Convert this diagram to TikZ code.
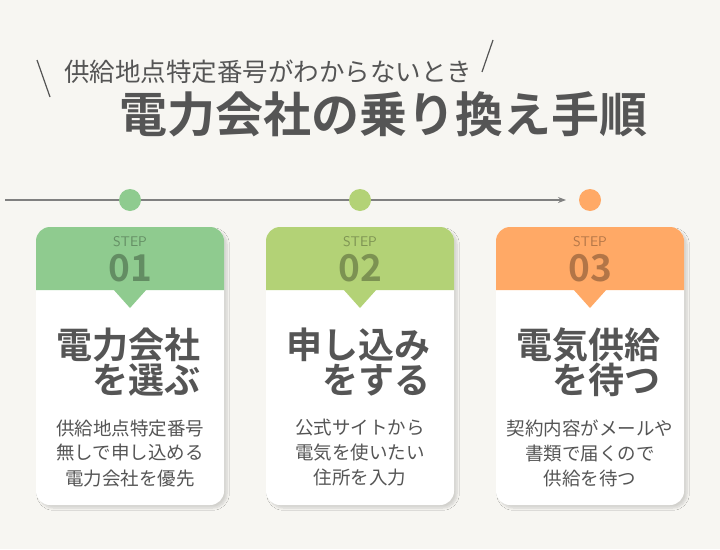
\documentclass[tikz,border=0pt]{standalone}
\usepackage{fontspec}
\setmainfont{Noto Sans CJK JP}[BoldFont={Noto Sans CJK JP Bold}]
\usetikzlibrary{arrows.meta,shadows.blur}
\definecolor{bg}{HTML}{F7F6F2}
\definecolor{txt}{HTML}{555555}
\definecolor{gA}{HTML}{8FCB8F}
\definecolor{gB}{HTML}{B3D276}
\definecolor{gC}{HTML}{FFA966}
\begin{document}
\begin{tikzpicture}[x=1pt,y=-1pt,
  body/.style={font=\fontsize{18.5}{25}\selectfont, text=txt, align=center},
  ttl/.style={font=\bfseries\fontsize{36}{36}\selectfont, text=txt, align=right, inner sep=0pt},
  stp/.style={font=\sffamily\fontsize{14}{14}\selectfont, text=black, opacity=0.3},
  num/.style={font=\bfseries\fontsize{37}{37}\selectfont, text=black, opacity=0.3}]
\fill[bg] (0,0) rectangle (720,549);
\useasboundingbox (0,0) rectangle (720,549);
\node[font=\fontsize{25.5}{26}\selectfont,text=txt] (sub) at (268,72) {供給地点特定番号がわからないとき};
\draw[txt,line width=1.2pt] (37,60) -- (50,97);
\draw[txt,line width=1.2pt] (493,40) -- (482,72);
\node[font=\bfseries\fontsize{48}{48}\selectfont,text=txt] (main) at (383,114) {電力会社の乗り換え手順};
\draw[gray,line width=1.5pt,-{Stealth[length=8pt]}] (5,200) -- (566,200);
\foreach \x/\c/\n/\la/\lb/\ba/\bb/\bc in {
 36/gA/01/電力会社/を選ぶ/供給地点特定番号/無しで申し込める/電力会社を優先,
 266/gB/02/申し込み/をする/公式サイトから/電気を使いたい/住所を入力,
 496/gC/03/電気供給/を待つ/契約内容がメールや/書類で届くので/供給を待つ}{
  \fill[white,rounded corners=14pt,blur shadow={shadow blur steps=8,shadow xshift=3pt,shadow yshift=-3pt,shadow opacity=15}] (\x,227) rectangle ++(188,278);
  \fill[\c,rounded corners=14pt] (\x,227) -- ++(188,0) -- ++(0,40) [sharp corners] -- ++(0,23) -- ++(-188,0) [rounded corners=14pt] -- cycle;
  \fill[\c] (\x+77,289) -- (\x+111,289) -- (\x+94,308) -- cycle;
  \fill[\c] (\x+94,200) circle (11);
  \node[stp] at (\x+94,242) {STEP};
  \node[num] at (\x+94,268) {\n};
  \node[ttl,anchor=east] at (\x+165,345) {\la};
  \node[ttl,anchor=east] at (\x+165,380) {\lb};
  \node[body] at (\x+94,453) {\ba\\\bb\\\bc};
}
\end{tikzpicture}
\end{document}
